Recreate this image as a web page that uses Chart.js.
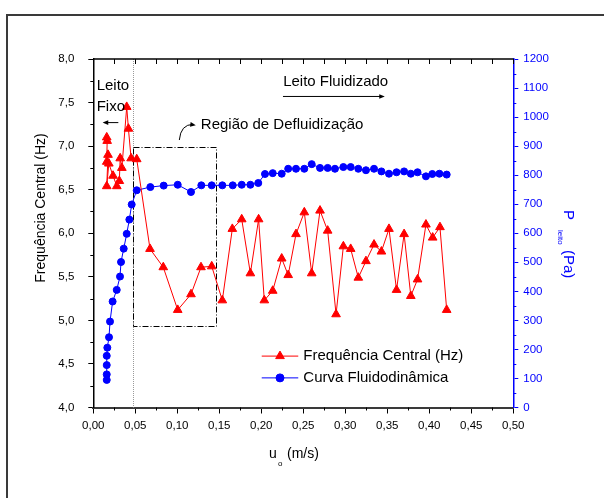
<!DOCTYPE html>
<html>
<head>
<meta charset="utf-8">
<script src="https://cdn.jsdelivr.net/npm/chart.js@4.4.1/dist/chart.umd.min.js"></script>
<style>
html, body { margin: 0; padding: 0; background: #fff; }
#wrap { width: 604px; height: 498px; }
</style>
</head>
<body>
<div id="wrap"><canvas id="chart" width="604" height="498"></canvas></div>
<script>
// velocidade superficial (m/s) e frequência central (Hz)
const uFreq = [0.016, 0.0165, 0.016, 0.0175, 0.016, 0.0185, 0.0235, 0.028, 0.031, 0.032,
    0.034, 0.0398, 0.0418, 0.045, 0.0517, 0.0675, 0.0833, 0.1005, 0.1163, 0.1282,
    0.141, 0.1536, 0.1655, 0.1767, 0.187, 0.1968, 0.2036, 0.2136, 0.2243, 0.232,
    0.2413, 0.2512, 0.26, 0.2699, 0.279, 0.289, 0.2977, 0.3064, 0.3155, 0.3246,
    0.3342, 0.343, 0.352, 0.361, 0.37, 0.378, 0.386, 0.396, 0.404, 0.4127, 0.4207];
const freq = [7.10, 7.06, 6.82, 6.90, 6.54, 6.80, 6.66, 6.54, 6.60, 6.86,
    6.75, 7.45, 7.20, 6.86, 6.85, 5.82, 5.61, 5.12, 5.30, 5.61,
    5.62, 5.23, 6.05, 6.16, 5.54, 6.16, 5.23, 5.34, 5.71, 5.52,
    5.99, 6.24, 5.54, 6.26, 6.03, 5.07, 5.85, 5.82, 5.49, 5.68,
    5.87, 5.79, 6.05, 5.35, 5.99, 5.28, 5.47, 6.10, 5.95, 6.07, 5.12];

// curva fluidodinâmica: queda de pressão no leito (Pa)
const uPress = [0.016, 0.016, 0.016, 0.016, 0.0167, 0.0187, 0.0199, 0.023, 0.0279, 0.0318,
    0.033, 0.0362, 0.0398, 0.0429, 0.0457, 0.0517, 0.0679, 0.0838, 0.1005, 0.1163,
    0.1286, 0.141, 0.1536, 0.166, 0.1767, 0.187, 0.1964, 0.2044, 0.2136, 0.2243,
    0.232, 0.2413, 0.2512, 0.26, 0.2699, 0.279, 0.2877, 0.2977, 0.3064, 0.3155,
    0.3246, 0.3342, 0.343, 0.352, 0.361, 0.37, 0.378, 0.386, 0.396, 0.4036, 0.412, 0.4207];
const press = [95, 114, 146, 178, 206, 242, 296, 365, 405, 451,
    501, 547, 598, 647, 699, 748, 759, 764, 767, 742,
    765, 765, 765, 765, 767, 767, 773, 804, 807, 805,
    822, 822, 822, 838, 825, 825, 822, 828, 828, 822,
    817, 822, 813, 805, 810, 813, 805, 810, 796, 804, 805, 802];

const xRange = [0, 0.5];
const freqRange = [4, 8];
const pressRange = [0, 1200];

const FONT = "'Liberation Sans', Arial, Helvetica, sans-serif";
Chart.defaults.font.family = FONT;
Chart.defaults.color = '#000';

const RED = '#ff0000';
const BLUE = '#0000ff';

const toPts = (xs, ys) => xs.map((x, i) => ({ x: x, y: ys[i] }));
const comma = (v, d) => v.toFixed(d).replace('.', ',');

function arrowHead(ctx, x, y, ang, size) {
    ctx.beginPath();
    ctx.moveTo(x, y);
    ctx.lineTo(x - size * Math.cos(ang - 0.4), y - size * Math.sin(ang - 0.4));
    ctx.lineTo(x - size * Math.cos(ang + 0.4), y - size * Math.sin(ang + 0.4));
    ctx.closePath();
    ctx.fill();
}

function minorTicks(ctx, scale, len, color, dir) {
    const t = scale.ticks;
    ctx.strokeStyle = color;
    ctx.lineWidth = 1;
    for (let i = 0; i < t.length - 1; i++) {
        const p = Math.round(scale.getPixelForValue((t[i].value + t[i + 1].value) / 2)) + 0.5;
        ctx.beginPath();
        if (dir === 'left') { ctx.moveTo(scale.right, p); ctx.lineTo(scale.right - len, p); }
        if (dir === 'right') { ctx.moveTo(scale.left, p); ctx.lineTo(scale.left + len, p); }
        if (dir === 'down') { ctx.moveTo(p, scale.top); ctx.lineTo(p, scale.top + len); }
        ctx.stroke();
    }
}

const extras = {
    id: 'extras',
    beforeDraw(chart) {
        const c = chart.ctx;
        c.save();
        c.fillStyle = '#fff';
        c.fillRect(0, 0, chart.width, chart.height);
        c.strokeStyle = '#3a3a3a';
        c.lineWidth = 2;
        c.strokeRect(7, 15, chart.width + 10, chart.height + 10);
        c.restore();
    },
    beforeDatasetsDraw(chart) {
        const c = chart.ctx, x = chart.scales.x, y = chart.scales.y, a = chart.chartArea;
        c.save();
        // limite leito fixo
        const xv = Math.round(x.getPixelForValue(0.0476)) + 0.5;
        c.strokeStyle = '#9a9a9a';
        c.lineWidth = 1;
        c.setLineDash([1, 1]);
        c.beginPath();
        c.moveTo(xv, a.top);
        c.lineTo(xv, a.bottom);
        c.stroke();
        // região de defluidização
        c.strokeStyle = '#000';
        c.setLineDash([6, 2, 1, 2]);
        const x0 = Math.round(x.getPixelForValue(0.0476)) + 0.5, x1 = Math.round(x.getPixelForValue(0.146)) + 0.5;
        const y0 = Math.round(y.getPixelForValue(6.985)) + 0.5, y1 = Math.round(y.getPixelForValue(4.94)) + 0.5;
        c.strokeRect(x0, y0, x1 - x0, y1 - y0);
        c.restore();
    },
    afterDraw(chart) {
        const c = chart.ctx, x = chart.scales.x, y = chart.scales.y, y2 = chart.scales.y2, a = chart.chartArea;
        const px = (u) => x.getPixelForValue(u), py = (f) => y.getPixelForValue(f);
        c.save();
        // borda superior com ticks internos
        c.strokeStyle = '#000';
        c.lineWidth = 1.5;
        c.beginPath();
        c.moveTo(a.left, a.top);
        c.lineTo(a.right, a.top);
        c.stroke();
        c.lineWidth = 1;
        const t = x.ticks;
        for (let i = 0; i < t.length; i++) {
            const vals = [t[i].value];
            if (i < t.length - 1) vals.push((t[i].value + t[i + 1].value) / 2);
            vals.forEach(v => {
                const p = Math.round(px(v)) + 0.5;
                c.beginPath();
                c.moveTo(p, a.top);
                c.lineTo(p, a.top + 5);
                c.stroke();
            });
        }
        minorTicks(c, x, 3, '#000', 'down');
        minorTicks(c, y, 3, '#000', 'left');
        minorTicks(c, y2, 3, BLUE, 'right');

        // títulos dos eixos
        c.fillStyle = '#000';
        c.textBaseline = 'alphabetic';
        c.font = '14px ' + FONT;
        c.save();
        c.translate(45, 208);
        c.rotate(-Math.PI / 2);
        c.textAlign = 'center';
        c.fillText('Frequência Central (Hz)', 0, 0);
        c.restore();

        c.textAlign = 'left';
        c.font = '14px ' + FONT;
        c.fillText('u', 269, 458);
        c.font = '8px ' + FONT;
        c.fillText('o', 278, 466);
        c.font = '14px ' + FONT;
        c.fillText('(m/s)', 287, 458);

        c.save();
        c.fillStyle = BLUE;
        c.translate(564, 210);
        c.rotate(Math.PI / 2);
        c.font = '15px ' + FONT;
        c.fillText('P', 0, 0);
        c.font = '8px ' + FONT;
        c.fillText('leito', 20, 6);
        c.font = '15px ' + FONT;
        c.fillText('(Pa)', 40, 0);
        c.restore();

        // anotações
        c.fillStyle = '#000';
        c.strokeStyle = '#000';
        c.font = '15px ' + FONT;
        c.fillText('Leito', px(0.004), py(7.64));
        c.fillText('Fixo', px(0.004), py(7.40));
        c.fillText('Região de Defluidização', px(0.128), py(7.20));
        c.fillText('Leito Fluidizado', px(0.226), py(7.69));

        c.lineWidth = 1;
        c.beginPath();
        c.moveTo(px(0.0298), py(7.27));
        c.lineTo(px(0.0125), py(7.27));
        c.stroke();
        arrowHead(c, px(0.0112), py(7.27), Math.PI, 6);

        c.beginPath();
        c.moveTo(px(0.2258), py(7.57));
        c.lineTo(px(0.345), py(7.57));
        c.stroke();
        arrowHead(c, px(0.347), py(7.57), 0, 6);

        c.beginPath();
        c.moveTo(px(0.1024), py(7.07));
        c.quadraticCurveTo(px(0.104), py(7.25), px(0.119), py(7.25));
        c.stroke();
        arrowHead(c, px(0.122), py(7.24), 0.15, 6);

        // legenda
        const lx0 = px(0.2005), lx1 = px(0.244), lt = px(0.25);
        const rows = [[py(4.59), RED, 'triangle', 'Frequência Central (Hz)'],
                      [py(4.34), BLUE, 'circle', 'Curva Fluidodinâmica']];
        rows.forEach(r => {
            c.strokeStyle = r[1];
            c.fillStyle = r[1];
            c.lineWidth = 1;
            c.beginPath();
            c.moveTo(lx0, r[0]);
            c.lineTo(lx1, r[0]);
            c.stroke();
            Chart.helpers.drawPoint(c, { pointStyle: r[2], radius: r[2] === 'triangle' ? 5 : 4, borderWidth: 1 },
                (lx0 + lx1) / 2, r[0]);
            c.fillStyle = '#000';
            c.font = '15px ' + FONT;
            c.textBaseline = 'middle';
            c.fillText(r[3], lt, r[0]);
        });
        c.restore();
    }
};

new Chart(document.getElementById('chart'), {
    type: 'line',
    data: {
        datasets: [
            {
                label: 'Frequência Central (Hz)',
                data: toPts(uFreq, freq),
                yAxisID: 'y',
                borderColor: RED,
                backgroundColor: RED,
                borderWidth: 1,
                pointStyle: 'triangle',
                pointRadius: 5,
                pointBorderWidth: 1,
                tension: 0,
            },
            {
                label: 'Curva Fluidodinâmica',
                data: toPts(uPress, press),
                yAxisID: 'y2',
                borderColor: BLUE,
                backgroundColor: BLUE,
                borderWidth: 1,
                pointStyle: 'circle',
                pointRadius: 3.5,
                pointBorderWidth: 1,
                tension: 0,
            },
        ],
    },
    options: {
        responsive: false,
        animation: false,
        devicePixelRatio: 1,
        layout: { padding: { left: 0, right: 0, top: 59, bottom: 0 } },
        plugins: { legend: { display: false }, tooltip: { enabled: false } },
        scales: {
            x: {
                type: 'linear',
                position: 'bottom',
                min: xRange[0],
                max: xRange[1],
                afterFit: (s) => { s.height = 90.5; },
                ticks: {
                    stepSize: 0.05,
                    font: { size: 11.5 },
                    padding: 5,
                    maxRotation: 0,
                    callback: (v) => comma(v, 2),
                },
                grid: { drawOnChartArea: false, tickLength: 6, color: '#000' },
                border: { color: '#3a3a3a', width: 2 },
            },
            y: {
                position: 'left',
                min: freqRange[0],
                max: freqRange[1],
                afterFit: (s) => { s.width = 93.3; },
                ticks: {
                    stepSize: 0.5,
                    font: { size: 11.5 },
                    padding: 14,
                    callback: (v) => comma(v, 1),
                },
                grid: { drawOnChartArea: false, tickLength: 5, color: '#000' },
                border: { color: '#000', width: 1.5 },
            },
            y2: {
                position: 'right',
                min: pressRange[0],
                max: pressRange[1],
                afterFit: (s) => { s.width = 604 - 513.3; },
                ticks: {
                    stepSize: 100,
                    color: BLUE,
                    font: { size: 11.5 },
                    padding: 5,
                    callback: (v) => String(v),
                },
                grid: { drawOnChartArea: false, tickLength: 5, color: BLUE },
                border: { color: BLUE, width: 1.5 },
            },
        },
    },
    plugins: [extras],
});
</script>
</body>
</html>
